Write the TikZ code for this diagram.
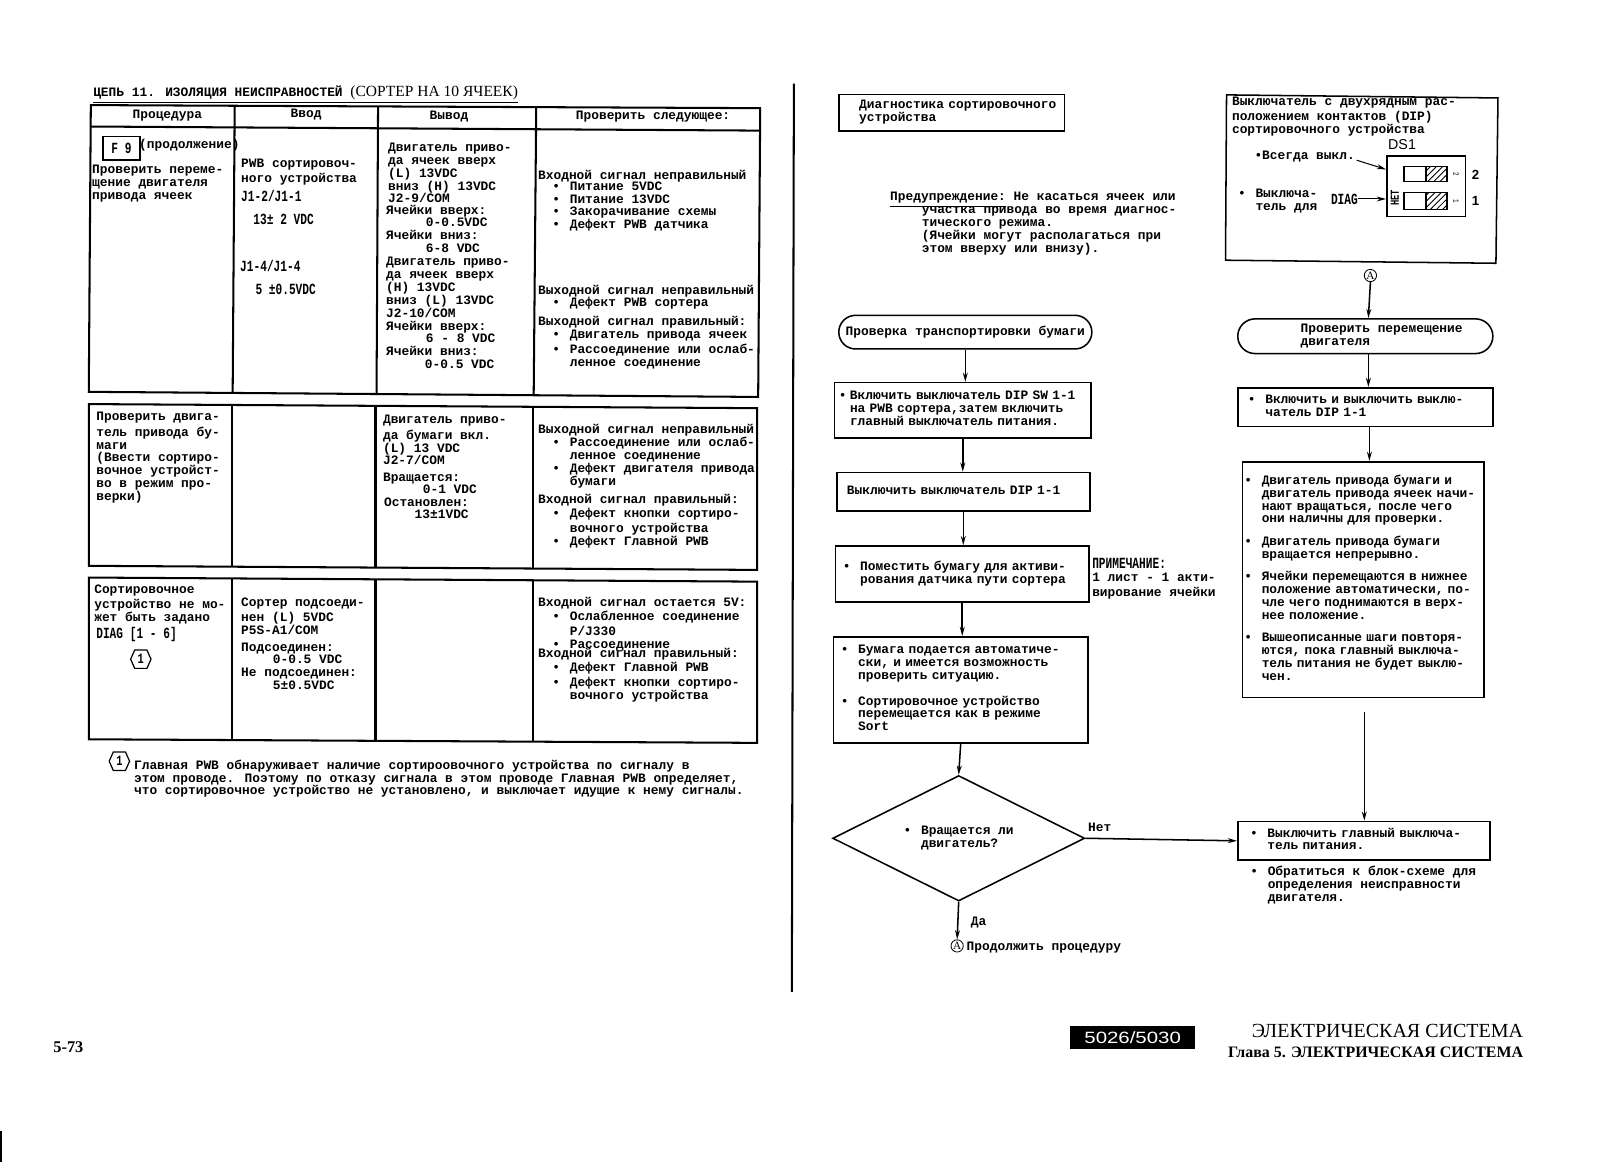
\documentclass[tikz,border=0pt]{standalone}
\usepackage{fontspec}
\setmainfont{Liberation Mono}
\newfontfamily\nar[FakeStretch=0.72]{Liberation Mono}
\newfontfamily\ser{Liberation Serif}
\newfontfamily\wsans[FakeStretch=1.25]{Liberation Sans}
\usetikzlibrary{arrows.meta,shapes.geometric,shapes.misc,patterns}
\newcounter{nc}
\newcommand\bl{\makebox[8.5pt][l]{•}}
\newcommand\ind{\hspace*{8.5pt}}
\newcommand\T[3]{\stepcounter{nc}\node[txt] (n\arabic{nc}) at (#1,#2) {\strut #3};}
\newcommand\C[3]{\stepcounter{nc}\node[ctxt] (n\arabic{nc}) at (#1,#2) {#3};}
\newcommand\N[3]{\stepcounter{nc}\node[ntxt] (n\arabic{nc}) at (#1,#2) {#3};}
\newcommand\inbox[2]{\hspace*{#1}\begin{tabular}{@{}l@{}}#2\end{tabular}}
\newcommand\hexg[1]{\draw[thin1] (#1.center) ++(-10,0) -- ++(4,-9) -- ++(12,0) -- ++(4,9) -- ++(-4,9) -- ++(-12,0) -- cycle;}
\tikzset{
 base1/.style={font=\fontsize{6.3}{6.3}\selectfont\bfseries},
 txt/.style={base1,anchor=north west,align=left,inner sep=0pt,yshift=2.4pt},
 ctxt/.style={base1,anchor=center,inner sep=0pt},
 ntxt/.style={font=\fontsize{7.6}{7.6}\selectfont\nar\bfseries,anchor=west,inner sep=0pt},
 tabl/.style={line width=1pt,line join=miter},
 thin1/.style={line width=0.6pt},
 bx/.style 2 args={draw,line width=0.75pt,rectangle,base1,minimum width=#1*0.5pt,minimum height=#2*0.5pt,text width=#1*0.5pt,inner sep=0pt,align=left},
 term/.style 2 args={draw,line width=0.75pt,rounded rectangle,rounded rectangle arc length=180,base1,minimum width=#1*0.5pt,minimum height=#2*0.5pt,inner sep=0pt,align=left},
 flow/.style={line width=0.75pt,-{Stealth[length=4.5pt,width=2.4pt]}},
 circA/.style={circle,draw,line width=0.4pt,inner sep=0pt,minimum size=6pt,font=\fontsize{5.5}{5.5}\selectfont\ser},
}
\begin{document}
\begin{tikzpicture}[x=0.5pt,y=-0.5pt]
\fill[white] (0,0) rectangle (1568,1139);
\useasboundingbox (0,0) rectangle (1568,1139);
% ---- title
\T{91}{88}{\underline{ЦЕПЬ 11. ИЗОЛЯЦИЯ НЕИСПРАВНОСТЕЙ\ {\ser\mdseries\fontsize{7.6}{7.6}\selectfont (СОРТЕР НА 10 ЯЧЕЕК)}}}
% ---- table 1
\draw[tabl] (89,103) -- (745,106) -- (743,389) -- (87,384) -- cycle;
\draw[tabl] (89,124) -- (745,128);
\draw[tabl] (230,103) -- (228,386);
\draw[tabl] (370.5,104) -- (369,387);
\draw[tabl] (525.5,105) -- (523,388);
\C{164}{113}{Процедура}
\C{300}{112}{Ввод}
\C{440}{114}{Вывод}
\C{640}{114}{Проверить следующее:}
\stepcounter{nc}\node[draw,line width=0.75pt,minimum width=18pt,minimum height=11.5pt,inner sep=0pt,font=\fontsize{7.6}{7.6}\selectfont\nar\bfseries] (f9) at (119,145.5) {F 9};
\T{136}{141}{(продолжение)}
\T{90}{166}{Проверить переме-\\щение двигателя\\привода ячеек}
\T{236}{160}{PWB сортировоч-\\ного устройства}
\N{236}{192}{J1-2/J1-1}
\N{248}{215}{13± 2 VDC}
\N{235}{261}{J1-4/J1-4}
\N{250}{284}{5 ±0.5VDC}
\T{380}{144}{Двигатель приво-\\да ячеек вверх\\(L) 13VDC\\вниз (H) 13VDC\\J2-9/COM}
\T{378}{206}{Ячейки вверх:}
\T{417}{218}{0-0.5VDC}
\T{378}{230}{Ячейки вниз:}
\T{417}{243}{6-8 VDC}
\T{378}{256}{Двигатель приво-\\да ячеек вверх\\(H) 13VDC\\вниз (L) 13VDC\\J2-10/COM}
\T{378}{319}{Ячейки вверх:}
\T{417}{331}{6 - 8 VDC}
\T{378}{344}{Ячейки вниз:}
\T{416}{357}{0-0.5 VDC}
\T{527}{171}{Входной сигнал неправильный}
\T{541}{182}{\bl Питание 5VDC\\\bl Питание 13VDC\\\bl Закорачивание схемы\\\bl Дефект PWB датчика}
\T{527}{284}{Выходной сигнал неправильный}
\T{541}{296}{\bl Дефект PWB сортера}
\T{527}{314}{Выходной сигнал правильный:}
\T{541}{327}{\bl Двигатель привода ячеек\\\bl Рассоединение или ослаб-\\\ind ленное соединение}
% ---- table 2
\draw[tabl] (87,396) -- (742,400) -- (742,558.5) -- (87,554.5) -- cycle;
\draw[tabl] (227.5,397) -- (227.5,555);
\draw[tabl] (368,398) -- (368,556);
\draw[tabl] (522.5,399) -- (522.5,557);
\T{94}{408}{Проверить двига-\\тель привода бу-\\маги\\(Ввести сортиро-\\вочное устройст-\\во в режим про-\\верки)}
\T{375}{411}{Двигатель приво-\\да бумаги вкл.\\(L) 13 VDC\\J2-7/COM}
\T{375}{467}{Вращается:}
\T{414}{479}{0-1 VDC}
\T{376}{492}{Остановлен:}
\T{406}{504}{13±1VDC}
\T{527}{420}{Выходной сигнал неправильный}
\T{541}{433}{\bl Рассоединение или ослаб-\\\ind ленное соединение\\\bl Дефект двигателя привода\\\ind бумаги}
\T{527}{489}{Входной сигнал правильный:}
\T{541}{502}{\bl Дефект кнопки сортиро-\\\ind вочного устройства\\\bl Дефект Главной PWB}
% ---- table 3
\draw[tabl] (87,566) -- (742,570) -- (742,728) -- (87,724.5) -- cycle;
\draw[tabl] (227.5,567) -- (227.5,725);
\draw[tabl] (368,568) -- (368,726);
\draw[tabl] (522.5,569) -- (522.5,727);
\T{92}{577}{Сортировочное\\устройство не мо-\\жет быть задано}
\N{94}{622}{DIAG [1 - 6]}
\node[inner sep=0pt,font=\fontsize{7}{7}\selectfont\nar\bfseries] (hexa) at (138,646) {1};
\hexg{hexa}
\T{236}{590}{Сортер подсоеди-\\нен (L) 5VDC\\P5S-A1/COM}
\T{236}{634}{Подсоединен:}
\T{267}{646}{0-0.5 VDC}
\T{236}{659}{Не подсоединен:}
\T{267}{671}{5±0.5VDC}
\T{527}{590}{Входной сигнал остается 5V:}
\T{541}{603}{\bl Ослабленное соединение\\\ind P/J330\\\bl Рассоединение}
\T{527}{640}{Входной сигнал правильный:}
\T{541}{653}{\bl Дефект Главной PWB\\\bl Дефект кнопки сортиро-\\\ind вочного устройства}
% ---- footnote
\node[inner sep=0pt,font=\fontsize{7}{7}\selectfont\nar\bfseries] (hexb) at (117,746) {1};
\hexg{hexb}
\T{131}{749}{Главная PWB обнаруживает наличие сортироовочного устройства по сигналу в\\этом проводе. Поэтому по отказу сигнала в этом проводе Главная PWB определяет,\\что сортировочное устройство не установлено, и выключает идущие к нему сигналы.}
% ---- divider
\draw[line width=1pt] (778,82) -- (776,972);
% ---- right page, left column
\node[bx={221}{36}] (diag) at (932.5,110.5) {\inbox{10pt}{Диагностика сортировочного\\устройства}};
\T{872}{192}{\underline{Предупреждение:} Не касаться ячеек или}
\T{903}{205}{участка привода во время диагнос-\\тического режима.\\(Ячейки могут располагаться при\\этом вверху или внизу).}
\node[term={248}{33}] (t1) at (946,325.5) {Проверка транспортировки бумаги};
\node[bx={251}{54}] (b2) at (943.5,402) {\inbox{2pt}{\makebox[5.5pt][l]{•}Включить выключатель DIP SW 1-1\\\hspace*{5.5pt}на PWB сортера,затем включить\\\hspace*{5.5pt}главный выключатель питания.}};
\node[bx={248}{38}] (b3) at (944,482) {\inbox{5pt}{Выключить выключатель DIP 1-1}};
\node[bx={248}{55}] (b4) at (943,562.5) {\inbox{3.5pt}{\bl Поместить бумагу для активи-\\\ind рования датчика пути сортера}};
\node[bx={249}{104}] (b5) at (941.5,676) {\inbox{3.5pt}{\bl Бумага подается автоматиче-\\\ind ски, и имеется возможность\\\ind проверить ситуацию.\\[6pt]\bl Сортировочное устройство\\\ind перемещается как в режиме\\\ind Sort}};
\node[draw,line width=0.75pt,diamond,aspect=2,base1,minimum width=123.5pt,minimum height=61.5pt,inner sep=0pt,align=left] (d1) at (939.5,821.5) {\bl Вращается ли\\\ind двигатель?};
\T{1066}{810}{Нет}
\T{951}{903}{Да}
\node[circA] (a1) at (938,927) {A};
\T{947}{927}{Продолжить процедуру}
\node[font=\fontsize{7.6}{7.6}\selectfont\nar\bfseries,anchor=west,inner sep=0pt] (note) at (1070,552) {ПРИМЕЧАНИЕ:};
\T{1070}{565}{1 лист - 1 акти-\\вирование ячейки}
\draw[flow] (t1.south) -- (b2.north -| t1.south);
\draw[flow] (b2.south) -- (b3.north -| b2.south);
\draw[flow] (b3.south) -- (b4.north -| b3.south);
\draw[flow] (b4.south) -- (b5.north -| b4.south);
\draw[flow] (b5.south) -- (d1.north);
\draw[flow] (d1.south) -- (a1.north);
% ---- right page, right column
\draw[line width=0.75pt] (1202,93) -- (1468,96) -- (1466,258) -- (1201,255) -- cycle;
\coordinate (dipbot) at (1342,258);
\T{1207}{99}{Выключатель с двухрядным рас-\\положением контактов (DIP)\\сортировочного устройства}
\node[inner sep=0pt,font=\fontsize{7}{7}\selectfont\fontspec{Liberation Sans}] (ds) at (1374,142) {DS1};
\T{1229}{152}{•Всегда выкл.}
\T{1213}{189}{\bl Выключа-\\\ind тель для}
\node[ntxt] (dg) at (1304,195) {DIAG};
\node[draw,line width=0.75pt,minimum width=38.5pt,minimum height=29.5pt,inner sep=0pt] (sw) at (1397.5,182.5) {};
\draw[line width=0.6pt] (1376,163) rectangle (1397.5,178);
\draw[line width=0.6pt,pattern=north east lines] (1397.5,163) rectangle (1418,178);
\draw[line width=0.6pt] (1376,189) rectangle (1397.5,205);
\draw[line width=0.6pt,pattern=north east lines] (1397.5,189) rectangle (1418,205);
\node[rotate=90,inner sep=0pt,font=\fontsize{6}{6}\selectfont\nar\bfseries] (het) at (1367,194) {HET};
\node[rotate=-90,inner sep=0pt,font=\fontsize{4}{4}\selectfont\nar] (s2) at (1427,171) {2};
\node[rotate=-90,inner sep=0pt,font=\fontsize{4}{4}\selectfont\nar] (s1) at (1427,197) {1};
\node[inner sep=0pt,font=\fontsize{6.5}{6.5}\selectfont\fontspec{Liberation Sans}\bfseries] (l2) at (1446,171) {2};
\node[inner sep=0pt,font=\fontsize{6.5}{6.5}\selectfont\fontspec{Liberation Sans}\bfseries] (l1) at (1446,197) {1};
\coordinate (vs) at (1329.5,157);
\draw[flow,line width=0.5pt] (vs) -- (sw.west |- 0,166);
\draw[flow,line width=0.5pt] (dg.east) -- (sw.west |- dg.east);
\node[circA] (a2) at (1343,270) {A};
\node[term={250}{34}] (t2) at (1338,329.5) {\inbox{16pt}{Проверить перемещение\\двигателя}};
\node[bx={250}{38}] (b6) at (1338,399) {\inbox{5pt}{\bl Включить и выключить выклю-\\\ind чатель DIP 1-1}};
\node[bx={237}{231}] (b7) at (1336,568) {\inbox{1pt}{\bl Двигатель привода бумаги и\\\ind двигатель привода ячеек начи-\\\ind нают вращаться, после чего\\\ind они наличны для проверки.\\[4.5pt]\bl Двигатель привода бумаги\\\ind вращается непрерывно.\\[4.5pt]\bl Ячейки перемещаются в нижнее\\\ind положение автоматически, по-\\\ind чле чего поднимаются в верх-\\\ind нее положение.\\[4.5pt]\bl Вышеописанные шаги повторя-\\\ind ются, пока главный выключа-\\\ind тель питания не будет выклю-\\\ind чен.}};
\coordinate (gap) at (1337,698);
\node[bx={247}{38}] (b8) at (1336.5,824) {\inbox{6pt}{\bl Выключить главный выключа-\\\ind тель питания.}};
\T{1225}{853}{\bl Обратиться к блок-схеме для\\\ind определения неисправности\\\ind двигателя.}
\draw[flow] (a2.south) -- ([xshift=1.5pt]t2.north);
\draw[flow] ([xshift=1.5pt]t2.south) -- ([xshift=1.5pt]b6.north);
\draw[flow] ([xshift=2pt]b6.south) -- ([xshift=3pt]b7.north);
\draw[flow] (gap) -- (b8.north -| gap);
\draw[flow] (d1.east) -- (b8.west);
% ---- footer
\T{52}{1025}{{\ser\fontsize{8}{8}\selectfont 5-73}}
\node[fill=black,minimum width=61pt,minimum height=11.5pt,inner sep=0pt,text=white,font=\fontsize{8}{8}\selectfont\wsans] (model) at (1110,1016.5) {5026/5030};
\node[anchor=east,inner sep=0pt,font=\fontsize{9.8}{9.8}\selectfont\ser] (f1) at (1493,1010) {ЭЛЕКТРИЧЕСКАЯ СИСТЕМА};
\node[anchor=east,inner sep=0pt,font=\fontsize{7.8}{7.8}\selectfont\ser\bfseries] (f2) at (1493,1031) {Глава 5. ЭЛЕКТРИЧЕСКАЯ СИСТЕМА};
\fill[black] (0,1108) rectangle (2,1139);
\end{tikzpicture}
\end{document}
